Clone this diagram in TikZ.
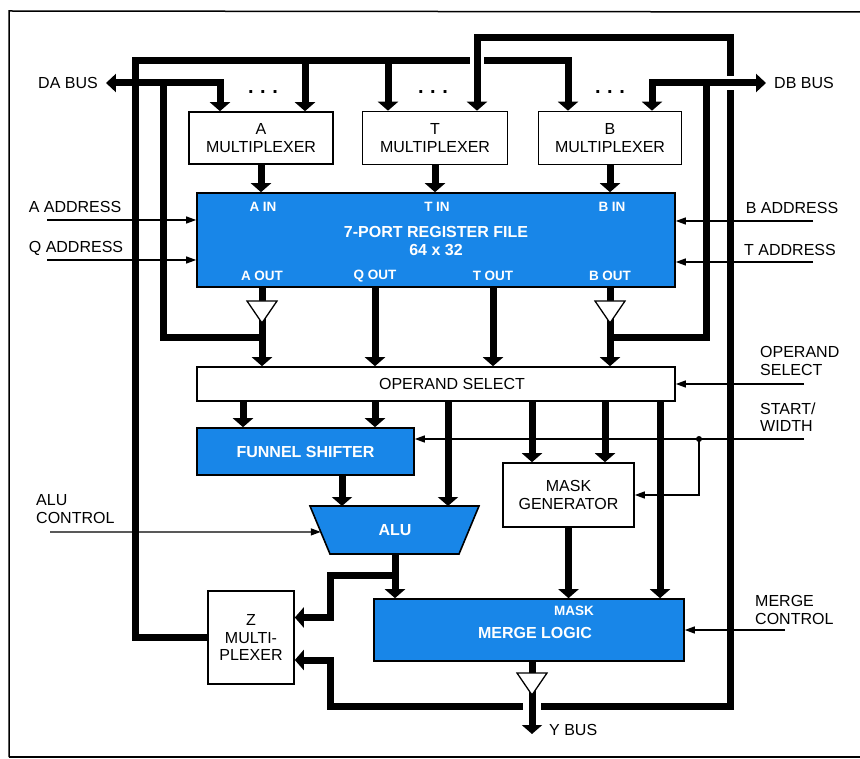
\documentclass[tikz,border=0pt]{standalone}
\usepackage{fontspec}
\setmainfont{Liberation Sans}
\usetikzlibrary{arrows.meta, positioning, calc}
\definecolor{chipblue}{RGB}{24,134,232}
\newcommand{\lblfont}{\fontsize{16}{17.5}\selectfont}
\newcommand{\chipfont}{\fontsize{16}{18}\selectfont\bfseries}
\newcommand{\portfont}{\fontsize{13.5}{15}\selectfont\bfseries}
\tikzset{
    box/.style={draw=black, line width=1.6pt, fill=white, align=center, inner sep=0pt, font=\lblfont},
    chip/.style={box, fill=chipblue, text=white, font=\chipfont},
    port/.style={text=white, font=\portfont, inner sep=0pt},
    lbl/.style={font=\lblfont, align=left, inner sep=0pt},
    dots/.style={font=\fontsize{20}{20}\selectfont\bfseries, inner sep=0pt},
    bus/.style={line width=7pt},
    busarrow/.style={bus, -{Triangle[width=20pt,length=9pt]}},
    busboth/.style={bus, {Triangle[width=18pt,length=10pt]}-{Triangle[width=20pt,length=9pt]}},
    ctrl/.style={line width=1.3pt, -{Triangle[width=7pt,length=10pt]}},
    buf/.pic={\draw[fill=white, line width=1.3pt] (-15,-11) -- (15,-11) -- (0,11) -- cycle;}
}

\begin{document}
\begin{tikzpicture}[x=1pt, y=-1pt]
        \useasboundingbox (0,0) rectangle (860,759);
        \draw[line width=1.5pt] (860,12) -- (9,11) -- (9,757);
        \draw[line width=2.5pt] (9,757) -- (860,757);

        % blocks
        \node [box, minimum width=144pt, minimum height=52pt] (amux) at (261,138) {A\\MULTIPLEXER};
        \node [box, minimum width=145pt, minimum height=53pt] (tmux) at (435,138) {T\\MULTIPLEXER};
        \node [box, minimum width=143pt, minimum height=53pt] (bmux) at (610,138) {B\\MULTIPLEXER};
        \node [chip, minimum width=478pt, minimum height=94pt] (regfile) at (436,240) {};
        \node [box, minimum width=478pt, minimum height=34pt] (opsel) at (436,384) {\hspace*{32pt}OPERAND SELECT};
        \node [chip, minimum width=217pt, minimum height=47pt] (funnel) at (305.5,451.5) {FUNNEL SHIFTER};
        \node [box, minimum width=131pt, minimum height=64pt] (maskgen) at (568.5,495) {MASK\\GENERATOR};
        \node [chip, minimum width=310pt, minimum height=62pt] (merge) at (529,630) {};
        \node [box, minimum width=86pt, minimum height=93pt] (zmux) at (251,637.5) {Z\\MULTI-\\PLEXER};
        \coordinate (alunw) at (310,506);
        \coordinate (alune) at (479,506);
        \coordinate (alusw) at (330,554);
        \coordinate (aluse) at (459,554);
        \draw [line width=1.6pt, fill=chipblue] (alunw) -- (alune) -- (aluse) -- (alusw) -- cycle;
        \node [port, font=\chipfont] (alu) at (395,530) {ALU};

        % texts in the blue blocks
        \node [port] (ain) at (263,207) {A IN};
        \node [port] (tin) at (437,207) {T IN};
        \node [port] (bin) at (612,207) {B IN};
        \node [port, font=\chipfont, align=center] (rftitle) at (436,241) {7-PORT REGISTER FILE\\64 x 32};
        \node [port] (aout) at (262,276) {A OUT};
        \node [port] (qout) at (375,276) {Q OUT};
        \node [port] (tout) at (493,276) {T OUT};
        \node [port] (bout) at (610,276) {B OUT};
        \node [port] (mmask) at (574,611) {MASK};
        \node [port, font=\chipfont] (mtitle) at (535,633) {MERGE LOGIC};
        \node [dots] (adots) at (263,92) {.\,\,.\,\,.};
        \node [dots] (tdots) at (433,92) {.\,\,.\,\,.};
        \node [dots] (bdots) at (610,92) {.\,\,.\,\,.};

        % outside labels
        \node [lbl] (dabus) at (68,83) {DA BUS};
        \node [lbl] (dbbus) at (804,83) {DB BUS};
        \node [lbl] (aaddr) at (75,207) {A ADDRESS};
        \node [lbl] (qaddr) at (76,248) {Q ADDRESS};
        \node [lbl] (baddr) at (792,208) {B ADDRESS};
        \node [lbl] (taddr) at (790,250) {T ADDRESS};
        \node [lbl, anchor=west] (opsell) at (760,361) {OPERAND\\SELECT};
        \node [lbl, anchor=west] (swl) at (760,417) {START/\\WIDTH};
        \node [lbl, anchor=west] (aluctl) at (36,509) {ALU\\CONTROL};
        \node [lbl, anchor=west] (mctl) at (755,610) {MERGE\\CONTROL};
        \node [lbl, anchor=west] (ybus) at (549,730) {Y BUS};

        % bus columns and corners
        \coordinate (bufa) at (262,312);
        \coordinate (bufb) at (610,312);
        \coordinate (ybuf) at (532,684);
        \coordinate (dacol) at (163,83);
        \coordinate (dajn) at (262,338);
        \coordinate (dbcol) at (706,83);
        \coordinate (dbjn) at (610,338);
        \coordinate (zcol) at (135,61);
        \coordinate (zgapl) at (470,61);
        \coordinate (zgapr) at (484,61);
        \coordinate (fbcol) at (730,706);
        \coordinate (fbtop) at (730,38);
        \coordinate (zlow) at (330,660);
        \coordinate (zup) at (330,575);
        \coordinate (xfa) at (243,0);
        \coordinate (xfs) at (342,0);
        \coordinate (xal) at (448,0);
        \coordinate (xmk) at (605,0);
        \coordinate (xmg) at (660,0);

        % register file
        \draw [busarrow] (amux.south) -- (amux.south |- regfile.north);
        \draw [busarrow] (tmux.south) -- (tmux.south |- regfile.north);
        \draw [busarrow] (bmux.south) -- (bmux.south |- regfile.north);
        \draw [busarrow] (regfile.south -| bufa) -- (opsel.north -| bufa);
        \draw [busarrow] (regfile.south -| qout) -- (opsel.north -| qout);
        \draw [busarrow] (regfile.south -| tout) -- (opsel.north -| tout);
        \draw [busarrow] (regfile.south -| bufb) -- (opsel.north -| bufb);

        % DA and DB buses
        \draw [bus] (dajn) -| (dacol);
        \draw [busboth] ([xshift=8pt]dabus.east) -| ([xshift=-41pt]amux.north);
        \draw [bus] (dbjn) -| (dbcol);
        \draw [busboth] ([xshift=-8pt]dbbus.west) -| ([xshift=42pt]bmux.north);

        % Z bus
        \draw [bus] (zmux.west) -| (zcol) -- (zgapl);
        \draw [busarrow] (zgapr) -| ([xshift=-42pt]bmux.north);
        \draw [busarrow] ([xshift=44pt]amux.north |- zcol) -- ([xshift=44pt]amux.north);
        \draw [busarrow] ([xshift=-47pt]tmux.north |- zcol) -- ([xshift=-47pt]tmux.north);

        % Y bus fed back
        \draw [bus] ([xshift=9pt]fbcol -| ybuf) -| ([yshift=-7pt]fbcol |- dbbus.west);
        \draw [busarrow] ([yshift=7pt]fbcol |- dbbus.west) -- (fbtop) -| ([xshift=42pt]tmux.north);
        \draw [busarrow] ([xshift=-9pt]fbcol -| ybuf) -| (zlow) -- (zmux.east |- zlow);
        \draw [busarrow] (merge.south -| ybuf) -- ([yshift=-4pt]ybus.west -| ybuf);

        % operand select outputs
        \draw [busarrow] (opsel.south -| xfa) -- (funnel.north -| xfa);
        \draw [busarrow] (opsel.south -| qout) -- (funnel.north -| qout);
        \draw [busarrow] (opsel.south -| xal) -- (alunw -| xal);
        \draw [busarrow] (opsel.south -| ybuf) -- (maskgen.north -| ybuf);
        \draw [busarrow] (opsel.south -| xmk) -- (maskgen.north -| xmk);
        \draw [busarrow] (opsel.south -| xmg) -- (merge.north -| xmg);
        \draw [busarrow] (funnel.south -| xfs) -- (alunw -| xfs);
        \draw [busarrow] (maskgen.south) -- (maskgen.south |- merge.north);
        \draw [busarrow] (alu |- alusw) -- (alu |- merge.north);
        \draw [busarrow] (alu |- zup) -- (zup) |- ([yshift=20pt]zmux.east);

        % buffers
        \pic at (bufa) {buf};
        \pic at (bufb) {buf};
        \pic at (ybuf) {buf};

        % control lines
        \coordinate (aadr) at (47,220);
        \coordinate (qadr) at (47,260);
        \coordinate (badr) at (813,221);
        \coordinate (tadr) at (813,262);
        \coordinate (osc) at (804,384);
        \coordinate (sw) at (804,439);
        \coordinate (swdot) at (699,439);
        \coordinate (aluc) at (50,532);
        \coordinate (aluw) at ($(alunw)!0.54!(alusw)$);
        \coordinate (mc) at (785,630);
        \draw [ctrl] (aadr) -- (aadr -| regfile.west);
        \draw [ctrl] (qadr) -- (qadr -| regfile.west);
        \draw [ctrl] (badr) -- (badr -| regfile.east);
        \draw [ctrl] (tadr) -- (tadr -| regfile.east);
        \draw [ctrl] (osc) -- (opsel.east);
        \draw [ctrl] (sw) -- (sw -| funnel.east);
        \draw [ctrl] (swdot) |- (maskgen.east);
        \fill (swdot) circle (3pt);
        \draw [ctrl] (aluc) -- (aluw);
        \draw [ctrl] (mc) -- (merge.east);
    \end{tikzpicture}
\end{document}
